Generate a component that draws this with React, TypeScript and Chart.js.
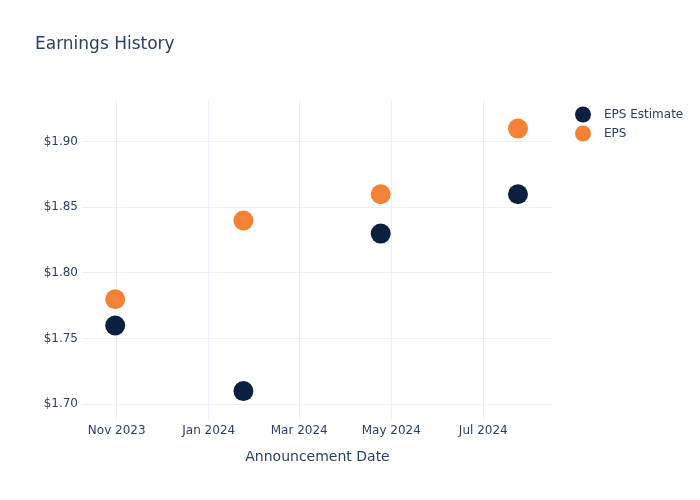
import React, { useEffect, useRef } from "react";
import { Chart, registerables } from "chart.js";

Chart.register(...registerables);

const announcementDates = ["2023-10-31", "2024-01-24", "2024-04-24", "2024-07-24"];
const epsEstimate = [1.76, 1.71, 1.83, 1.86];
const epsActual = [1.78, 1.84, 1.86, 1.91];
const xTickDates = ["2023-11-01", "2024-01-01", "2024-03-01", "2024-05-01", "2024-07-01"];
const yTicks = [1.7, 1.75, 1.8, 1.85, 1.9];
const monthNames = ["Jan", "Feb", "Mar", "Apr", "May", "Jun", "Jul", "Aug", "Sep", "Oct", "Nov", "Dec"];

const TEXT = "#2a3f5f";
const GRID = "#ebf0f8";
const FONT = "'DejaVu Sans', 'Open Sans', sans-serif";

const toMs = (s: string) => Date.parse(s + "T00:00:00Z");

const overlayPlugin = {
  id: "overlay",
  afterDraw(chart: any) {
    const ctx = chart.ctx;
    ctx.save();
    ctx.fillStyle = TEXT;
    ctx.font = `17px ${FONT}`;
    ctx.textBaseline = "middle";
    ctx.textAlign = "left";
    ctx.fillText("Earnings History", 35, 45);
    ctx.font = `12px ${FONT}`;
    chart.data.datasets.forEach((ds: any, i: number) => {
      const y = 114.5 + i * 19;
      ctx.beginPath();
      ctx.arc(583, y, 8, 0, Math.PI * 2);
      ctx.fillStyle = ds.backgroundColor;
      ctx.fill();
      ctx.fillStyle = TEXT;
      ctx.fillText(ds.label, 604, y + 0.5);
    });
    ctx.restore();
  },
};

export default function App() {
  const ref = useRef<HTMLCanvasElement>(null);
  useEffect(() => {
    if (!ref.current) return;
    const chart = new Chart(ref.current, {
      type: "scatter",
      data: {
        datasets: [
          {
            label: "EPS Estimate",
            data: announcementDates.map((d, i) => ({ x: toMs(d), y: epsEstimate[i] })),
            backgroundColor: "#0b1f40",
            borderColor: "#0b1f40",
            borderWidth: 0,
            pointBorderWidth: 0,
            pointRadius: 10,
            pointHoverRadius: 10,
          },
          {
            label: "EPS",
            data: announcementDates.map((d, i) => ({ x: toMs(d), y: epsActual[i] })),
            backgroundColor: "#f58137",
            borderColor: "#f58137",
            borderWidth: 0,
            pointBorderWidth: 0,
            pointRadius: 10,
            pointHoverRadius: 10,
          },
        ],
      },
      options: {
        animation: false,
        responsive: false,
        events: [],
        layout: { padding: { top: 100, right: 147, left: 0, bottom: 0 } },
        plugins: { legend: { display: false }, title: { display: false }, tooltip: { enabled: false } },
        scales: {
          x: {
            type: "linear",
            min: Date.UTC(2023, 9, 9),
            max: Date.UTC(2024, 7, 16, 5),
            afterFit: (s: any) => {
              s.height = 80;
            },
            afterBuildTicks: (s: any) => {
              s.ticks = xTickDates.map((d) => ({ value: toMs(d) }));
            },
            grid: { color: GRID, lineWidth: 1, drawTicks: false },
            border: { display: false },
            ticks: {
              padding: 4,
              color: TEXT,
              font: { family: FONT, size: 12 },
              maxRotation: 0,
              autoSkip: false,
              callback: (v: any) => {
                const d = new Date(Number(v));
                return `${monthNames[d.getUTCMonth()]} ${d.getUTCFullYear()}`;
              },
            },
            title: {
              display: true,
              text: "Announcement Date",
              color: TEXT,
              font: { family: FONT, size: 14 },
              padding: { top: 0, bottom: 34.6 },
            },
          },
          y: {
            min: 1.688,
            max: 1.9318,
            afterFit: (s: any) => {
              s.width = 82;
            },
            afterBuildTicks: (s: any) => {
              s.ticks = yTicks.map((v) => ({ value: v }));
            },
            grid: { color: GRID, lineWidth: 1, drawTicks: false },
            border: { display: false },
            ticks: {
              padding: 4,
              color: TEXT,
              font: { family: FONT, size: 12 },
              callback: (v: any) => "$" + Number(v).toFixed(2),
            },
          },
        },
      },
      plugins: [overlayPlugin],
    });
    return () => chart.destroy();
  }, []);
  return (
    <div style={{ position: "fixed", left: 0, top: 0, width: 700, height: 500, background: "#fff" }}>
      <canvas ref={ref} width={700} height={500} style={{ width: 700, height: 500 }} />
    </div>
  );
}
